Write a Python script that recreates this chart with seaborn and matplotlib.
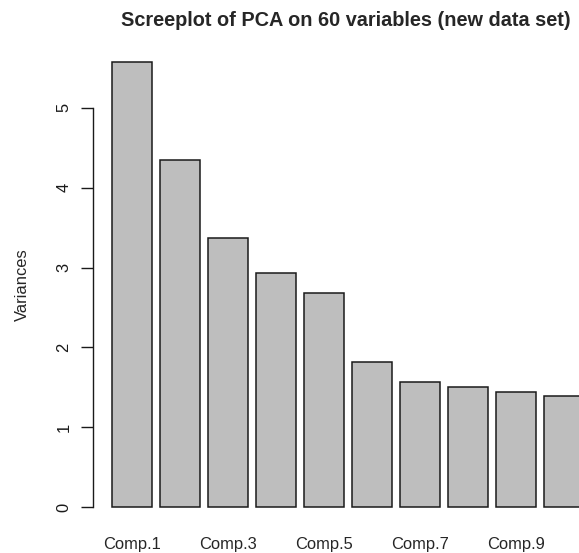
import matplotlib
matplotlib.use('Agg')
import matplotlib.pyplot as plt
import seaborn as sns
import pandas as pd

components = ['Comp.1', 'Comp.2', 'Comp.3', 'Comp.4', 'Comp.5',
              'Comp.6', 'Comp.7', 'Comp.8', 'Comp.9', 'Comp.10']
variances = [5.58, 4.35, 3.37, 2.93, 2.68, 1.82, 1.57, 1.50, 1.44, 1.39]
shown_labels = ['Comp.1', 'Comp.3', 'Comp.5', 'Comp.7', 'Comp.9']

sns.set_style('white')
plt.rcParams['font.family'] = ['Liberation Sans', 'DejaVu Sans']

df = pd.DataFrame({'comp': components, 'var': variances})

W, H = 579, 553
fig = plt.figure(figsize=(W / 100, H / 100), dpi=100)
# plot region in pixels: left 92.8, right beyond the image, top 44, bottom 525
ax = fig.add_axes([92.8 / W, (H - 525) / H, 1 - 92.8 / W, (525 - 44) / H])

sns.barplot(data=df, x='comp', y='var', color='#BEBEBE', saturation=1,
            edgecolor='#1a1a1a', linewidth=1.1, width=1 / 1.2, ax=ax)

ax.set_xlim(-0.817, 9.3125)
ax.set_ylim(-0.223, 5.80)

ax.set_xticks([components.index(c) for c in shown_labels])
ax.set_xticklabels(shown_labels)
ax.tick_params(axis='x', bottom=False, length=0, pad=9, labelsize=11.9)
ax.set_yticks(range(6))
ax.tick_params(axis='y', left=True, length=8.3, width=1, direction='out', pad=7,
               labelsize=11.9, color='#1a1a1a', labelcolor='#1a1a1a')
for lab in ax.get_yticklabels():
    lab.set_rotation(90)
    lab.set_va('center')

for s in ['top', 'right', 'bottom']:
    ax.spines[s].set_visible(False)
ax.spines['left'].set_bounds(0, 5)
ax.spines['left'].set_color('#1a1a1a')
ax.spines['left'].set_linewidth(1)

ax.set_xlabel('')
ax.set_ylabel('Variances', fontsize=11.9)
ax.yaxis.set_label_coords(-0.130, 0.5)

fig.text(346 / W, 1 - 20 / H, 'Screeplot of PCA on 60 variables (new data set)',
         ha='center', va='center', fontsize=14.3, fontweight='bold')

fig.savefig('out.png', dpi=100)
